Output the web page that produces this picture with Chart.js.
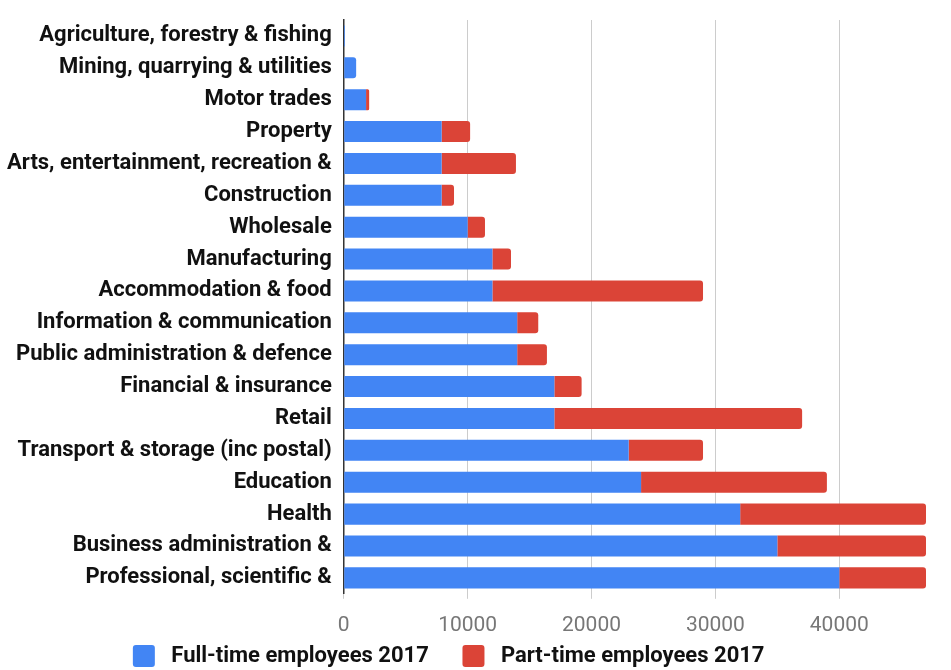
<!DOCTYPE html>
<html>
<head>
<meta charset="utf-8">
<script src="https://cdn.jsdelivr.net/npm/chart.js@4/dist/chart.umd.min.js"></script>
<style>
  html, body { margin: 0; padding: 0; background: #fff; }
  #wrap { width: 951px; height: 670px; position: relative; }
</style>
</head>
<body>
<div id="wrap"><canvas id="grafico"></canvas></div>
<script>
// datos
const sectores = [
  'Agriculture, forestry & fishing',
  'Mining, quarrying & utilities',
  'Motor trades',
  'Property',
  'Arts, entertainment, recreation &',
  'Construction',
  'Wholesale',
  'Manufacturing',
  'Accommodation & food',
  'Information & communication',
  'Public administration & defence',
  'Financial & insurance',
  'Retail',
  'Transport & storage (inc postal)',
  'Education',
  'Health',
  'Business administration &',
  'Professional, scientific &'
];
const tiempoCompleto = [100, 1000, 1800, 7900, 7900, 7900, 10000, 12000, 12000, 14000, 14000, 17000, 17000, 23000, 24000, 32000, 35000, 40000];
const tiempoParcial  = [0, 0, 250, 2300, 6000, 1000, 1400, 1500, 17000, 1700, 2400, 2200, 20000, 6000, 15000, 15000, 12000, 7000];
const ejeMax = 47000;
const ejeTicks = [0, 10000, 20000, 30000, 40000];

const canvas = document.getElementById('grafico');
canvas.width = 951;
canvas.height = 670;

// pequeno ajuste horizontal de la leyenda
const moverLeyenda = {
  id: 'moverLeyenda',
  afterLayout(chart) {
    if (chart.legend) {
      chart.legend.left += 5;
      chart.legend.right += 5;
    }
  }
};

const config = {
  type: 'bar',
  data: {
    labels: sectores,
    datasets: [{
      label: 'Full-time employees 2017',
      data: tiempoCompleto,
      backgroundColor: '#4285f4',
      borderRadius: 3,
      borderSkipped: 'start'
    }, {
      label: 'Part-time employees 2017',
      data: tiempoParcial,
      backgroundColor: '#db4437',
      borderRadius: 3,
      borderSkipped: 'start'
    }]
  },
  options: {
    indexAxis: 'y',
    responsive: false,
    animation: false,
    barPercentage: 0.66,
    categoryPercentage: 1,
    layout: { padding: { top: 20, right: 25, left: -5, bottom: -7 } },
    plugins: {
      tooltip: { enabled: false },
      legend: {
        position: 'bottom',
        labels: {
          boxWidth: 22,
          boxHeight: 22,
          padding: 0,
          color: '#111',
          font: { family: 'Roboto', size: 22, weight: 'bold' },
          generateLabels: (chart) => {
            const items = Chart.defaults.plugins.legend.labels.generateLabels(chart);
            items.forEach(it => { it.text = ' ' + it.text + '\u2003\u2002'; it.borderRadius = 3; it.lineWidth = 0; });
            return items;
          }
        }
      }
    },
    scales: {
      x: {
        stacked: true,
        min: 0,
        max: ejeMax,
        afterBuildTicks: (eje) => { eje.ticks = ejeTicks.map(v => ({ value: v })); },
        afterFit: (eje) => { eje.height -= 7; },
        border: { display: false },
        grid: {
          color: '#cccccc',
          lineWidth: 1,
          tickLength: 5
        },
        ticks: {
          color: '#777',
          padding: 14,
          font: { family: 'Roboto', size: 21 },
          callback: (v) => String(v)
        }
      },
      y: {
        stacked: true,
        afterFit: (eje) => { eje.paddingTop = 0; eje.paddingBottom = 0; },
        grid: { display: false, drawTicks: false },
        border: { display: true, color: '#333', width: 1.5 },
        ticks: {
          color: '#111',
          padding: 12,
          font: { family: 'Roboto', size: 22, weight: 'bold' }
        }
      }
    }
  },
  plugins: [moverLeyenda]
};

new Chart(canvas, config);
</script>
</body>
</html>
